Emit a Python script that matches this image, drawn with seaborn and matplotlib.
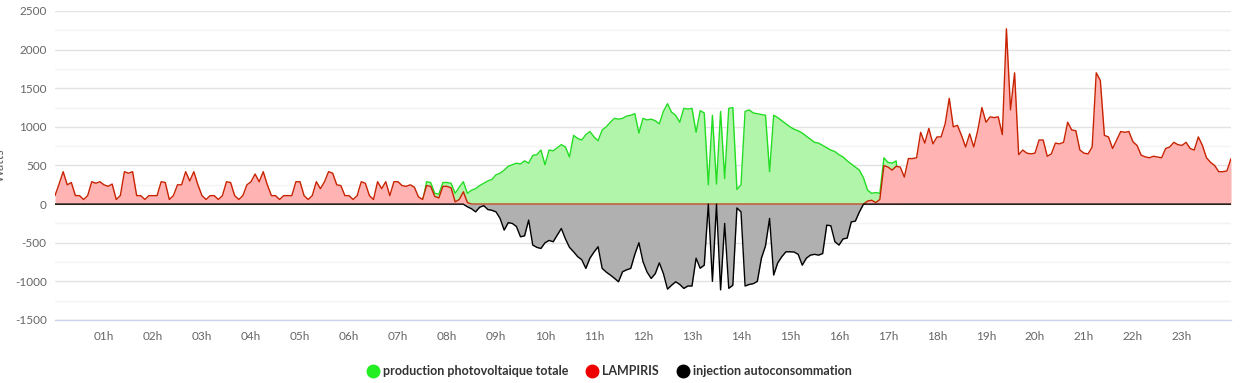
import numpy as np
import pandas as pd
import matplotlib
matplotlib.use("Agg")
import matplotlib.pyplot as plt
import seaborn as sns
from matplotlib.lines import Line2D
from matplotlib.ticker import MultipleLocator

# ---------------- data (5-minute steps, 00h00 .. 24h00) ----------------
step_minutes = 5

lampiris_watts = [
    110, 260, 420, 250, 280, 110, 110, 60, 110, 290, 270, 290,      # 00h
    250, 230, 260, 60, 110, 420, 400, 420, 110, 110, 60, 110,       # 01h
    110, 110, 290, 280, 60, 110, 250, 250, 420, 300, 420, 250,      # 02h
    110, 60, 110, 110, 60, 110, 290, 280, 110, 60, 110, 250,        # 03h
    290, 390, 290, 420, 250, 110, 110, 60, 110, 110, 110, 290,      # 04h
    290, 110, 60, 110, 290, 200, 290, 420, 400, 250, 240, 110,      # 05h
    110, 60, 110, 290, 270, 110, 60, 290, 200, 290, 110, 290,       # 06h
    290, 240, 230, 250, 220, 95, 60, 240, 230, 100, 80, 230,        # 07h
    230, 210, 30, 60, 160, 20, 0, 0, 0, 0, 0, 0,                    # 08h
    0, 0, 0, 0, 0, 0, 0, 0, 0, 0, 0, 0,                             # 09h
    0, 0, 0, 0, 0, 0, 0, 0, 0, 0, 0, 0,                             # 10h
    0, 0, 0, 0, 0, 0, 0, 0, 0, 0, 0, 0,                             # 11h
    0, 0, 0, 0, 0, 0, 0, 0, 0, 0, 0, 0,                             # 12h
    0, 0, 0, 0, 0, 0, 0, 0, 0, 0, 0, 0,                             # 13h
    0, 0, 0, 0, 0, 0, 0, 0, 0, 0, 0, 0,                             # 14h
    0, 0, 0, 0, 0, 0, 0, 0, 0, 0, 0, 0,                             # 15h
    0, 0, 0, 0, 0, 0, 0, 40, 50, 20, 60, 500,                       # 16h
    480, 440, 490, 480, 350, 590, 590, 600, 930, 790, 980, 780,     # 17h
    870, 870, 1040, 1370, 1000, 1020, 890, 740, 910, 740, 960, 1250,  # 18h
    1060, 1130, 1120, 1130, 900, 2270, 1220, 1700, 640, 700, 660, 650,  # 19h
    660, 830, 830, 620, 650, 790, 780, 800, 1060, 960, 950, 700,    # 20h
    660, 650, 740, 1700, 1600, 890, 870, 720, 830, 940, 930, 940,   # 21h
    806, 760, 634, 612, 600, 620, 610, 600, 720, 740, 800, 770,     # 22h
    760, 800, 720, 700, 870, 760, 600, 540, 500, 420, 420, 430,     # 23h
    590,                                                            # 24h
]

pv_watts = [
    0, 0, 0, 0, 0, 0, 0, 0, 0, 0, 0, 0,                             # 00h
    0, 0, 0, 0, 0, 0, 0, 0, 0, 0, 0, 0,                             # 01h
    0, 0, 0, 0, 0, 0, 0, 0, 0, 0, 0, 0,                             # 02h
    0, 0, 0, 0, 0, 0, 0, 0, 0, 0, 0, 0,                             # 03h
    0, 0, 0, 0, 0, 0, 0, 0, 0, 0, 0, 0,                             # 04h
    0, 0, 0, 0, 0, 0, 0, 0, 0, 0, 0, 0,                             # 05h
    0, 0, 0, 0, 0, 0, 0, 0, 0, 0, 0, 0,                             # 06h
    0, 0, 0, 0, 0, 0, 20, 290, 280, 140, 130, 280,                  # 07h
    280, 270, 140, 220, 290, 140, 180, 200, 240, 270, 300, 320,     # 08h
    380, 400, 440, 490, 510, 530, 520, 560, 530, 630, 640, 700,     # 09h
    510, 700, 690, 730, 770, 740, 610, 890, 850, 830, 900, 940,     # 10h
    870, 820, 960, 1000, 1060, 1110, 1100, 1110, 1140, 1150, 1170, 920,  # 11h
    1110, 1090, 1100, 1080, 1040, 1200, 1300, 1190, 1150, 1060, 1240, 1230,  # 12h
    1240, 930, 1210, 1180, 250, 1150, 260, 1200, 330, 1240, 1250, 190,  # 13h
    250, 1200, 1220, 1180, 1170, 1160, 1150, 420, 1150, 1120, 1080, 1040,  # 14h
    1000, 970, 950, 920, 880, 840, 800, 790, 760, 730, 700, 680,    # 15h
    640, 610, 560, 520, 480, 440, 340, 180, 140, 150, 140, 600,     # 16h
    540, 530, 560, 0, 0, 0, 0, 0, 0, 0, 0, 0,                       # 17h
    0, 0, 0, 0, 0, 0, 0, 0, 0, 0, 0, 0,                             # 18h
    0, 0, 0, 0, 0, 0, 0, 0, 0, 0, 0, 0,                             # 19h
    0, 0, 0, 0, 0, 0, 0, 0, 0, 0, 0, 0,                             # 20h
    0, 0, 0, 0, 0, 0, 0, 0, 0, 0, 0, 0,                             # 21h
    0, 0, 0, 0, 0, 0, 0, 0, 0, 0, 0, 0,                             # 22h
    0, 0, 0, 0, 0, 0, 0, 0, 0, 0, 0, 0,                             # 23h
    0,                                                              # 24h
]

injection_watts = [
    0, 0, 0, 0, 0, 0, 0, 0, 0, 0, 0, 0,                             # 00h
    0, 0, 0, 0, 0, 0, 0, 0, 0, 0, 0, 0,                             # 01h
    0, 0, 0, 0, 0, 0, 0, 0, 0, 0, 0, 0,                             # 02h
    0, 0, 0, 0, 0, 0, 0, 0, 0, 0, 0, 0,                             # 03h
    0, 0, 0, 0, 0, 0, 0, 0, 0, 0, 0, 0,                             # 04h
    0, 0, 0, 0, 0, 0, 0, 0, 0, 0, 0, 0,                             # 05h
    0, 0, 0, 0, 0, 0, 0, 0, 0, 0, 0, 0,                             # 06h
    0, 0, 0, 0, 0, 0, 0, 0, 0, 0, 0, 0,                             # 07h
    0, 0, 0, 0, 0, -35, -60, -100, -40, -20, -70, -80,              # 08h
    -100, -185, -336, -240, -250, -290, -423, -410, -207, -530, -560, -574,  # 09h
    -500, -470, -487, -400, -315, -450, -560, -617, -680, -720, -832, -700,  # 10h
    -620, -552, -832, -880, -918, -960, -1005, -875, -850, -832, -650, -500,  # 11h
    -745, -880, -962, -900, -760, -900, -1100, -1050, -1005, -1040, -1091, -1060,  # 12h
    -1060, -700, -830, -790, 0, -1000, 0, -1110, -250, -1090, -1050, -50,  # 13h
    -100, -1060, -1040, -1030, -1000, -700, -540, -185, -918, -760, -680, -617,  # 14h
    -617, -620, -650, -790, -700, -660, -650, -660, -640, -272, -280, -487,  # 15h
    -530, -450, -440, -230, -220, -100, 0, 0, 0, 0, 0, 0,           # 16h
    0, 0, 0, 0, 0, 0, 0, 0, 0, 0, 0, 0,                             # 17h
    0, 0, 0, 0, 0, 0, 0, 0, 0, 0, 0, 0,                             # 18h
    0, 0, 0, 0, 0, 0, 0, 0, 0, 0, 0, 0,                             # 19h
    0, 0, 0, 0, 0, 0, 0, 0, 0, 0, 0, 0,                             # 20h
    0, 0, 0, 0, 0, 0, 0, 0, 0, 0, 0, 0,                             # 21h
    0, 0, 0, 0, 0, 0, 0, 0, 0, 0, 0, 0,                             # 22h
    0, 0, 0, 0, 0, 0, 0, 0, 0, 0, 0, 0,                             # 23h
    0,                                                              # 24h
]

hour_labels = ["", "01h", "02h", "03h", "04h", "05h", "06h", "07h", "08h",
               "09h", "10h", "11h", "12h", "13h", "14h", "15h", "16h",
               "17h", "18h", "19h", "20h", "21h", "22h", "23h"]
y_ticks = [-1500, -1000, -500, 0, 500, 1000, 1500, 2000, 2500]

series_names = ["production photovoltaique totale", "LAMPIRIS",
                "injection autoconsommation"]

# ---------------- figure ----------------
hours = np.arange(len(lampiris_watts)) * step_minutes / 60.0
df = pd.DataFrame({"heure": hours, "pv": pv_watts,
                   "lampiris": lampiris_watts, "injection": injection_watts})

sns.set_theme(style="white")
plt.rcParams["font.family"] = ["Lato", "DejaVu Sans"]

W, H = 1249, 383
fig = plt.figure(figsize=(W / 100, H / 100), dpi=100)
ax = fig.add_axes([55 / W, 1 - 320 / H, (1231 - 55) / W, (320 - 11) / H])

GREEN_LINE, GREEN_FILL = "#22dd22", "#b0f5aa"
RED_LINE, RED_FILL = "#c82300", "#ffb3b3"
BLACK_LINE, GRAY_FILL = "#000000", "#b0b0b0"

# production (green)
ax.fill_between(df["heure"], 0, df["pv"], color=GREEN_FILL, lw=0, zorder=2)
sns.lineplot(data=df, x="heure", y="pv", ax=ax, color=GREEN_LINE, lw=1.0,
             estimator=None, zorder=3)
# LAMPIRIS (red)
ax.fill_between(df["heure"], 0, df["lampiris"], color=RED_FILL, lw=0, zorder=4)
sns.lineplot(data=df, x="heure", y="lampiris", ax=ax, color=RED_LINE, lw=1.0,
             estimator=None, zorder=5)
# injection (black)
ax.fill_between(df["heure"], 0, df["injection"], color=GRAY_FILL, lw=0, zorder=6)
sns.lineplot(data=df, x="heure", y="injection", ax=ax, color=BLACK_LINE, lw=1.0,
             estimator=None, zorder=7)

ax.set_xlim(0, 24)
ax.set_ylim(-1500, 2500)
ax.set_yticks(y_ticks)
ax.set_yticklabels([str(v) for v in y_ticks])
ax.yaxis.set_minor_locator(MultipleLocator(250))
ax.set_xticks(range(24))
ax.set_xticklabels(hour_labels)

ax.grid(False)
ax.grid(which="major", axis="y", color="#e3e3e3", lw=1.0, zorder=0)
ax.grid(which="minor", axis="y", color="#f3f3f3", lw=1.0, zorder=0)
ax.set_axisbelow(True)

for s in ["left", "right", "top"]:
    ax.spines[s].set_visible(False)
ax.spines["bottom"].set_color("#ccd6eb")
ax.spines["bottom"].set_linewidth(1.0)
ax.spines["bottom"].set_zorder(1)

ax.tick_params(axis="y", which="both", length=0, labelsize=8.5,
               labelcolor="#666666", pad=6)
ax.tick_params(axis="x", which="major", length=7, width=0.8, color="#ccd6eb",
               direction="out", labelsize=8.5, labelcolor="#666666", pad=1)
ax.tick_params(axis="x", which="minor", length=0)

ax.set_xlabel("")
ax.set_ylabel("")
fig.text(0.0, 1 - 165 / H, "Watts", rotation=90, ha="center", va="center",
         color="#666666", fontsize=9)

handles = [Line2D([], [], ls="none", marker="o", markersize=9,
                  markerfacecolor=c, markeredgecolor=c)
           for c in ["#22ee22", "#ee0000", "#000000"]]
fig.legend(handles, series_names, loc="center", bbox_to_anchor=(610 / W, 1 - 371 / H),
           ncol=3, frameon=False, handlelength=0.8, handletextpad=0.4,
           columnspacing=1.5, prop={"weight": "bold", "size": 9},
           labelcolor="#333333")

fig.savefig("out.png", dpi=100)
